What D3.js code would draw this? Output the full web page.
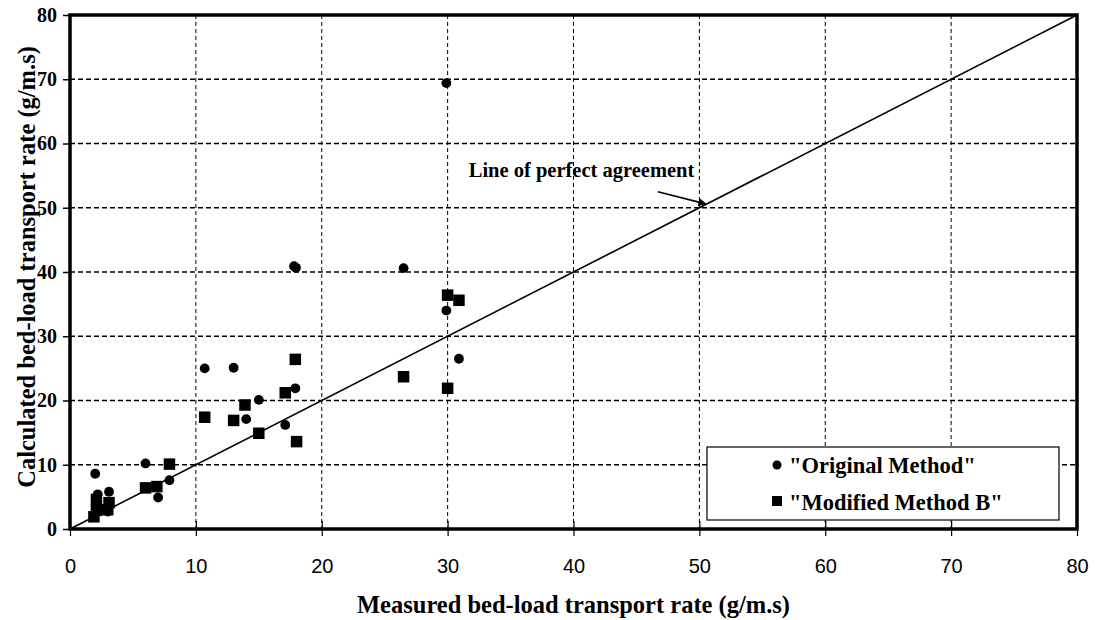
<!DOCTYPE html>
<html>
<head>
<meta charset="utf-8">
<script src="https://cdn.jsdelivr.net/npm/d3@7"></script>
<style>
  html, body { margin: 0; padding: 0; background: #fff; }
  svg { display: block; }
</style>
</head>
<body>
<svg id="chart" width="1095" height="620"></svg>
<script>
// Bed-load transport: measured vs calculated rates (g/m.s)
const originalX = [2.0, 2.2, 3.1, 3.0, 6.0, 7.0, 7.9, 10.7, 13.0, 14.0, 15.0, 17.1, 17.9, 17.8, 17.95, 26.5, 29.9, 29.9, 30.9];
const originalY = [8.6, 5.4, 5.8, 2.7, 10.2, 4.9, 7.6, 25.0, 25.1, 17.1, 20.1, 16.2, 21.9, 40.9, 40.65, 40.6, 69.4, 34.0, 26.5];

const modifiedX = [1.9, 2.1, 2.1, 3.0, 3.1, 6.0, 6.9, 7.9, 10.7, 13.0, 13.9, 15.0, 17.1, 17.9, 18.0, 26.5, 30.0, 30.9, 30.0];
const modifiedY = [1.9, 2.9, 4.6, 3.0, 4.1, 6.4, 6.6, 10.1, 17.4, 16.9, 19.3, 14.9, 21.2, 26.4, 13.6, 23.7, 36.4, 35.6, 21.9];

const xTicks = [0, 10, 20, 30, 40, 50, 60, 70, 80];
const yTicks = [0, 10, 20, 30, 40, 50, 60, 70, 80];
const agreementLine = [0, 80];

(function () {
  const svg = d3.select("#chart");
  const serif = "'Liberation Serif', 'Times New Roman', serif";
  const sans = "'Liberation Sans', Arial, sans-serif";

  const pLeft = 70, pRight = 1077, pTop = 15, pBottom = 529;
  const x = d3.scaleLinear().domain([0, 80]).range([pLeft, pRight]);
  const y = d3.scaleLinear().domain([0, 80]).range([pBottom, pTop]);

  // dashed grid
  const grid = svg.append("g");
  grid.selectAll("line.h").data(yTicks.filter(d => d > 0 && d < 80)).join("line")
    .attr("class", "h")
    .attr("x1", pLeft).attr("x2", pRight)
    .attr("y1", d => y(d)).attr("y2", d => y(d))
    .attr("stroke", "#000").attr("stroke-width", 1.4).attr("stroke-dasharray", "5,3");
  grid.selectAll("line.v").data(xTicks.filter(d => d > 0 && d < 80)).join("line")
    .attr("class", "v")
    .attr("y1", pTop).attr("y2", pBottom)
    .attr("x1", d => x(d)).attr("x2", d => x(d))
    .attr("stroke", "#000").attr("stroke-width", 1).attr("stroke-dasharray", "4,3");

  // axes
  const xAxis = svg.append("g").attr("transform", `translate(0,${pBottom})`)
    .call(d3.axisBottom(x).tickValues(xTicks).tickSizeInner(7).tickSizeOuter(0).tickPadding(23));
  xAxis.select(".domain").remove();
  xAxis.selectAll(".tick line").attr("y1", -8).attr("stroke-width", 1.2);
  xAxis.selectAll("text").attr("font-family", sans).attr("font-size", 20).attr("fill", "#000");

  const yAxis = svg.append("g").attr("transform", `translate(${pLeft},0)`)
    .call(d3.axisLeft(y).tickValues(yTicks).tickSizeInner(7).tickSizeOuter(0).tickPadding(6));
  yAxis.select(".domain").remove();
  yAxis.selectAll(".tick line").attr("stroke-width", 1.5);
  yAxis.selectAll("text").attr("font-family", serif).attr("font-weight", "bold")
    .attr("font-size", 20).attr("fill", "#000");

  // plot frame
  svg.append("rect").attr("x", pLeft).attr("y", pTop)
    .attr("width", pRight - pLeft).attr("height", pBottom - pTop)
    .attr("fill", "none").attr("stroke", "#000").attr("stroke-width", 3.5);

  // line of perfect agreement
  svg.append("line")
    .attr("x1", x(agreementLine[0])).attr("y1", y(agreementLine[0]))
    .attr("x2", x(agreementLine[1])).attr("y2", y(agreementLine[1]))
    .attr("stroke", "#000").attr("stroke-width", 1.6);

  // annotation with arrow
  svg.append("defs").append("marker")
    .attr("id", "arrowHead").attr("viewBox", "0 0 10 10")
    .attr("refX", 9).attr("refY", 5).attr("markerWidth", 8).attr("markerHeight", 8)
    .attr("markerUnits", "userSpaceOnUse").attr("orient", "auto")
    .append("path").attr("d", "M0,0 L10,5 L0,10 z").attr("fill", "#000");
  svg.append("line")
    .attr("x1", x(46.7)).attr("y1", y(52.5))
    .attr("x2", x(50.5)).attr("y2", y(50.6))
    .attr("stroke", "#000").attr("stroke-width", 1.6)
    .attr("marker-end", "url(#arrowHead)");
  svg.append("text")
    .attr("x", x(49.6)).attr("y", y(54.8))
    .attr("text-anchor", "end")
    .attr("font-family", serif).attr("font-weight", "bold").attr("font-size", 20.5)
    .text("Line of perfect agreement");

  // series
  const original = originalX.map((d, i) => ({ x: d, y: originalY[i] }));
  const modified = modifiedX.map((d, i) => ({ x: d, y: modifiedY[i] }));

  svg.append("g").selectAll("circle").data(original).join("circle")
    .attr("cx", d => x(d.x)).attr("cy", d => y(d.y)).attr("r", 4.9).attr("fill", "#000");

  const sq = 11.5;
  svg.append("g").selectAll("rect").data(modified).join("rect")
    .attr("x", d => x(d.x) - sq / 2).attr("y", d => y(d.y) - sq / 2)
    .attr("width", sq).attr("height", sq).attr("fill", "#000");

  // legend
  const legend = svg.append("g");
  legend.append("rect").attr("x", 707).attr("y", 447).attr("width", 352).attr("height", 73)
    .attr("fill", "#fff").attr("stroke", "#000").attr("stroke-width", 1.2);
  legend.append("circle").attr("cx", 777).attr("cy", 465).attr("r", 4.5).attr("fill", "#000");
  legend.append("rect").attr("x", 772).attr("y", 496).attr("width", 10).attr("height", 10).attr("fill", "#000");
  legend.append("text").attr("x", 789).attr("y", 473)
    .attr("font-family", serif).attr("font-weight", "bold").attr("font-size", 22.5)
    .text("\"Original Method\"");
  legend.append("text").attr("x", 789).attr("y", 510)
    .attr("font-family", serif).attr("font-weight", "bold").attr("font-size", 22.5)
    .text("\"Modified Method B\"");

  // axis titles
  svg.append("text").attr("x", (pLeft + pRight) / 2).attr("y", 613)
    .attr("text-anchor", "middle")
    .attr("font-family", serif).attr("font-weight", "bold").attr("font-size", 24.5)
    .text("Measured bed-load transport rate (g/m.s)");
  svg.append("text")
    .attr("transform", `translate(35,267) rotate(-90)`)
    .attr("text-anchor", "middle")
    .attr("font-family", serif).attr("font-weight", "bold").attr("font-size", 24.5)
    .text("Calculated bed-load transport rate (g/m.s)");
})();
</script>
</body>
</html>
